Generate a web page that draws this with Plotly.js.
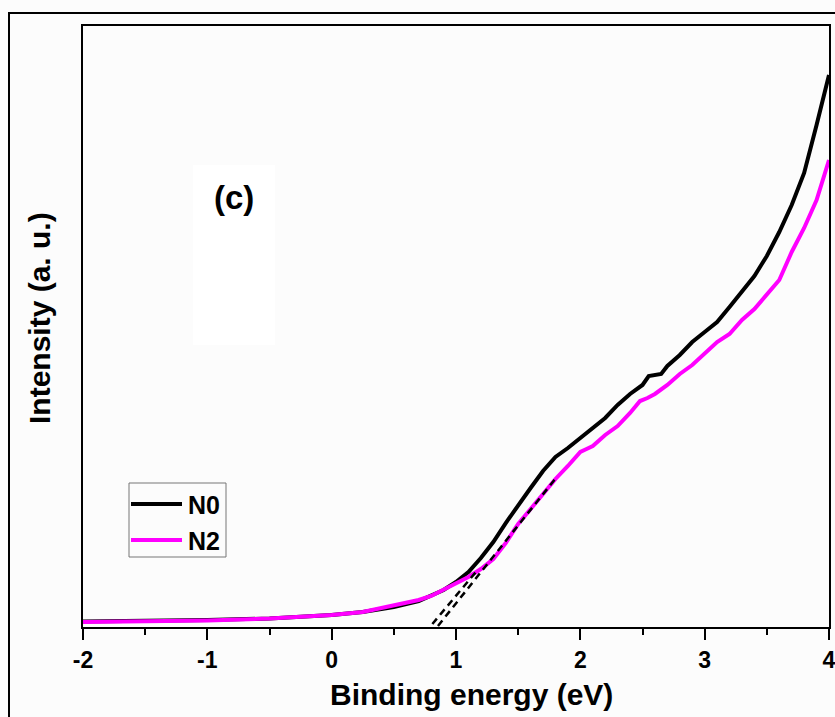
<!DOCTYPE html>
<html>
<head>
<meta charset="utf-8">
<script src="https://cdn.plot.ly/plotly-3.0.1.min.js"></script>
<style>
  html, body { margin: 0; padding: 0; background: #fcfcfc; }
  #chart { width: 835px; height: 717px; }
</style>
</head>
<body>
<div id="chart"></div>
<script>
// Binding energy (eV)
const energyN0 = [-2.0, -1.5, -1.0, -0.5, 0.0, 0.25, 0.5, 0.7, 0.8, 0.9, 1.0, 1.1, 1.2, 1.3, 1.4, 1.5, 1.6, 1.7, 1.8, 1.9, 2.0, 2.1, 2.2, 2.3, 2.4, 2.5, 2.55, 2.65, 2.7, 2.8, 2.9, 3.0, 3.1, 3.2, 3.3, 3.4, 3.5, 3.6, 3.7, 3.8, 3.9, 4.0];
// Intensity (a. u.) of sample N0
const intensityN0 = [0.92, 1.0, 1.16, 1.41, 2.0, 2.5, 3.33, 4.33, 5.16, 6.16, 7.49, 9.15, 11.48, 14.14, 17.3, 20.3, 23.13, 25.96, 28.29, 29.78, 31.45, 33.11, 34.78, 36.94, 38.77, 40.27, 41.76, 42.1, 43.43, 45.26, 47.42, 49.08, 50.75, 53.24, 55.74, 58.4, 61.73, 65.72, 70.22, 75.54, 83.53, 91.85];

const energyN2 = [-2.0, -1.5, -1.0, -0.5, 0.0, 0.25, 0.4, 0.5, 0.7, 0.8, 0.9, 1.0, 1.1, 1.2, 1.3, 1.4, 1.5, 1.6, 1.7, 1.8, 1.9, 2.0, 2.05, 2.1, 2.2, 2.3, 2.4, 2.48, 2.54, 2.6, 2.7, 2.8, 2.9, 3.0, 3.1, 3.2, 3.3, 3.4, 3.5, 3.6, 3.7, 3.8, 3.9, 4.0];
// Intensity (a. u.) of sample N2
const intensityN2 = [0.83, 0.92, 1.08, 1.41, 2.0, 2.5, 3.16, 3.49, 4.49, 5.16, 6.16, 7.15, 8.32, 9.65, 11.31, 13.98, 17.14, 19.63, 22.13, 24.63, 26.79, 29.12, 29.62, 30.12, 31.95, 33.44, 35.61, 37.6, 38.1, 38.77, 40.27, 42.1, 43.59, 45.59, 47.42, 48.75, 51.08, 52.91, 55.24, 57.74, 62.4, 66.39, 71.05, 77.7];

// Linear onset extrapolations (valence band edge)
const edgeN0x = [0.81, 1.18];
const edgeN0y = [0.5, 9.65];
const edgeN2x = [0.855, 1.81];
const edgeN2y = [0.17, 24.96];

const xTicks = [-2, -1, 0, 1, 2, 3, 4];
const seriesNames = ['N0', 'N2'];
const seriesColors = ['#000000', '#ff00ff'];

const font = "Arial, 'Liberation Sans', Helvetica, sans-serif";

// plot area in page pixels: x 83..829, y 26..627
const W = 835, H = 717, ML = 83, MR = 6, MT = 26, MB = 90;
const PW = W - ML - MR, PH = H - MT - MB;
const px = p => (p - ML) / PW;          // page x -> paper x
const py = p => (H - MB - p) / PH;      // page y -> paper y

const traces = [
  { x: energyN0, y: intensityN0, name: seriesNames[0], mode: 'lines',
    line: { color: seriesColors[0], width: 4 } },
  { x: energyN2, y: intensityN2, name: seriesNames[1], mode: 'lines',
    line: { color: seriesColors[1], width: 4 } },
  { x: edgeN0x, y: edgeN0y, mode: 'lines', showlegend: false,
    line: { color: '#000000', width: 2.5, dash: '7px,5px' }, hoverinfo: 'skip' },
  { x: edgeN2x, y: edgeN2y, mode: 'lines', showlegend: false,
    line: { color: '#000000', width: 2.5, dash: '7px,5px' }, hoverinfo: 'skip' }
];

// legend box drawn as shapes + text
const legendRows = [504, 540];
const legendShapes = [
  { type: 'rect', xref: 'paper', yref: 'paper',
    x0: px(129), x1: px(226), y0: py(557), y1: py(483),
    line: { color: '#777777', width: 1 }, fillcolor: 'rgba(0,0,0,0)' }
].concat(legendRows.map((r, i) => ({
  type: 'line', xref: 'paper', yref: 'paper',
  x0: px(131), x1: px(182), y0: py(r), y1: py(r),
  line: { color: seriesColors[i], width: 4 }
})));
const legendText = legendRows.map((r, i) => ({
  text: seriesNames[i], xref: 'paper', yref: 'paper',
  x: px(186), y: py(r + 1), xanchor: 'left', yanchor: 'middle', showarrow: false,
  font: { family: font, size: 25, weight: 'bold', color: '#000000' }
}));

const layout = {
  width: W, height: H,
  margin: { l: ML, r: MR, t: MT, b: MB },
  paper_bgcolor: '#fcfcfc',
  plot_bgcolor: '#fcfcfc',
  font: { family: font, color: '#000000' },
  showlegend: false,
  xaxis: {
    range: [-2, 4],
    tickvals: xTicks,
    ticktext: xTicks.map(String),
    ticklabeloverflow: 'allow',
    ticks: 'outside', ticklen: 11, tickwidth: 2, tickcolor: '#000000',
    minor: { dtick: 0.5, ticks: 'outside', ticklen: 6, tickwidth: 2, tickcolor: '#000000' },
    showline: true, linecolor: '#000000', linewidth: 2, mirror: true,
    showgrid: false, zeroline: false,
    tickfont: { family: font, size: 23, weight: 'bold', color: '#000000' }
  },
  yaxis: {
    range: [0, 100],
    showticklabels: false, ticks: '',
    showline: true, linecolor: '#000000', linewidth: 2, mirror: true,
    showgrid: false, zeroline: false
  },
  shapes: [
    // outer frame of the panel
    { type: 'rect', xref: 'paper', yref: 'paper',
      x0: px(9), x1: px(860), y0: py(760), y1: py(13),
      line: { color: '#000000', width: 2 }, layer: 'below' },
    // pale label box
    { type: 'rect', xref: 'paper', yref: 'paper',
      x0: px(193), x1: px(275), y0: py(345), y1: py(165),
      fillcolor: '#ffffff', line: { width: 0 }, layer: 'below' }
  ].concat(legendShapes),
  annotations: [
    { text: 'Binding energy (eV)', xref: 'paper', yref: 'paper',
      x: px(471), y: py(695), showarrow: false, xanchor: 'center', yanchor: 'middle',
      font: { family: font, size: 30, weight: 'bold', color: '#000000' } },
    { text: 'Intensity (a. u.)', xref: 'paper', yref: 'paper',
      x: px(39), y: py(318), textangle: -90,
      showarrow: false, xanchor: 'center', yanchor: 'middle',
      font: { family: font, size: 30, weight: 'bold', color: '#000000' } },
    { text: '(c)', xref: 'paper', yref: 'paper',
      x: px(234), y: py(198),
      showarrow: false, xanchor: 'center', yanchor: 'middle',
      font: { family: font, size: 33, weight: 'bold', color: '#000000' } }
  ].concat(legendText)
};

Plotly.newPlot('chart', traces, layout, { displayModeBar: false, staticPlot: true });
</script>
</body>
</html>
